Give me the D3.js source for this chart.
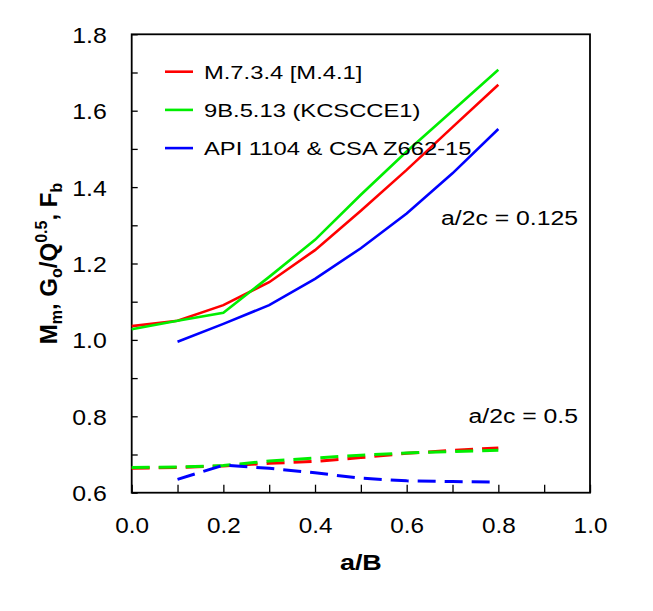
<!DOCTYPE html>
<html><head><meta charset="utf-8">
<script src="https://cdn.jsdelivr.net/npm/d3@7"></script>
<style>
body{margin:0;background:#fff}
text{font-family:"Liberation Sans",Arial,Helvetica,sans-serif;fill:#000}
</style>
</head><body>
<svg id="c" width="653" height="611"></svg>
<script>
// ---- data ----
const xValues = [0.0, 0.1, 0.2, 0.3, 0.4, 0.5, 0.6, 0.7, 0.8];
const seriesNames = ["M.7.3.4 [M.4.1]", "9B.5.13 (KCSCCE1)", "API 1104 & CSA Z662-15"];
const seriesColors = ["#ff0000", "#00ee00", "#0000ff"];
// a/2c = 0.125 (solid)
const red125   = [1.036, 1.050, 1.091, 1.151, 1.235, 1.338, 1.445, 1.557, 1.668];
const green125 = [1.028, 1.050, 1.071, 1.165, 1.262, 1.380, 1.493, 1.600, 1.707];
const blue125  = [null, 0.995, 1.042, 1.091, 1.160, 1.240, 1.331, 1.436, 1.552];
// a/2c = 0.5 (dashed)
const red05    = [0.664, 0.666, 0.670, 0.677, 0.682, 0.692, 0.703, 0.711, 0.717];
const green05  = [0.666, 0.667, 0.671, 0.683, 0.691, 0.698, 0.704, 0.708, 0.711];
const blue05   = [null, 0.635, 0.672, 0.664, 0.652, 0.638, 0.631, 0.629, 0.628];
const xTicks = [0, 0.1, 0.2, 0.3, 0.4, 0.5, 0.6, 0.7, 0.8, 0.9, 1.0];
const yTicks = [0.6, 0.7, 0.8, 0.9, 1.0, 1.1, 1.2, 1.3, 1.4, 1.5, 1.6, 1.7, 1.8];
const annotations = [{text: "a/2c = 0.125", x: 1.0, y: 1.30}, {text: "a/2c = 0.5", x: 1.0, y: 0.782}];

// ---- chart ----
const svg = d3.select("#c");
const L = 131.7, R = 590, T = 34.3, B = 492.7;
const x = d3.scaleLinear().domain([0, 1]).range([L, R]);
const y = d3.scaleLinear().domain([0.6, 1.8]).range([B, T]);
const fmt = d3.format(".1f");

const gx = svg.append("g").attr("transform", `translate(0,${B})`)
  .call(d3.axisBottom(x).tickValues(xTicks).tickSizeInner(-8).tickSizeOuter(0)
    .tickFormat((d, i) => i % 2 === 0 ? fmt(d) : ""));
gx.select(".domain").remove();
gx.selectAll(".tick line").attr("stroke", "#000").attr("stroke-width", 1.3);
gx.selectAll(".tick text").attr("y", 24).attr("dy", "0.72em")
  .attr("font-size", 22.5).attr("transform", "scale(1.08,1)");

const gy = svg.append("g").attr("transform", `translate(${L},0)`)
  .call(d3.axisLeft(y).tickValues(yTicks).tickSizeInner(-6).tickSizeOuter(0)
    .tickFormat((d, i) => i % 2 === 0 ? fmt(d) : ""));
gy.select(".domain").remove();
gy.selectAll(".tick line").attr("stroke", "#000").attr("stroke-width", 1.3);
gy.selectAll(".tick text").attr("x", -22).attr("dy", "0.36em")
  .attr("font-size", 22).attr("transform", "scale(1.13,1)");

svg.append("rect").attr("x", L).attr("y", T).attr("width", R - L).attr("height", B - T)
  .attr("fill", "none").attr("stroke", "#000").attr("stroke-width", 1.8);

const line = d3.line().defined(d => d[1] != null).x(d => x(d[0])).y(d => y(d[1]));
function draw(vals, color, dashed) {
  svg.append("path").datum(xValues.map((v, i) => [v, vals[i]]))
    .attr("d", line).attr("fill", "none").attr("stroke", color)
    .attr("stroke-width", dashed ? 3 : 2.6)
    .attr("stroke-dasharray", dashed ? "18,9" : null);
}
draw(red05, seriesColors[0], true);
draw(green05, seriesColors[1], true);
draw(blue05, seriesColors[2], true);
draw(blue125, seriesColors[2], false);
draw(red125, seriesColors[0], false);
draw(green125, seriesColors[1], false);

// legend
const leg = svg.append("g");
seriesNames.forEach((n, i) => {
  const yy = 71.7 + i * 38.2;
  leg.append("line").attr("x1", 165).attr("x2", 193).attr("y1", yy).attr("y2", yy)
    .attr("stroke", seriesColors[i]).attr("stroke-width", 2.6);
  leg.append("text").attr("transform", `translate(204,${yy + 7}) scale(1.25,1)`)
    .attr("font-size", 19).text(n);
});

// annotations
annotations.forEach(a => {
  svg.append("text").attr("transform", `translate(${x(a.x) - 12},${y(a.y)}) scale(1.18,1)`)
    .attr("text-anchor", "end").attr("font-size", 21).text(a.text);
});

// axis titles
svg.append("text").attr("transform", `translate(${(L + R) / 2},569.5) scale(1.25,1)`)
  .attr("text-anchor", "middle")
  .attr("font-size", 21.5).attr("font-weight", "bold").text("a/B");

const yt = svg.append("text").attr("transform", `translate(57,${(T + B) / 2}) rotate(-90)`)
  .attr("text-anchor", "middle").attr("font-size", 24).attr("font-weight", "bold");
yt.append("tspan").text("M");
yt.append("tspan").attr("font-size", 16).attr("dy", 5).text("m");
yt.append("tspan").attr("dy", -5).text(", G");
yt.append("tspan").attr("font-size", 16).attr("dy", 5).text("o");
yt.append("tspan").attr("dy", -5).text("/Q");
yt.append("tspan").attr("font-size", 16).attr("dy", -10).text("0.5");
yt.append("tspan").attr("dy", 10).text(", F");
yt.append("tspan").attr("font-size", 16).attr("dy", 5).text("b");
</script>
</body></html>
